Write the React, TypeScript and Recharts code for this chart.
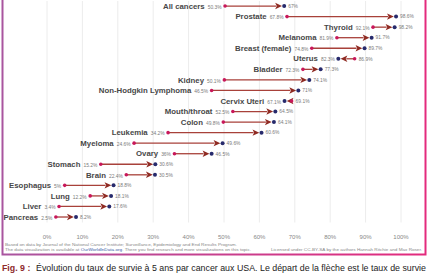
import React from 'react';
import { ComposedChart, Bar, XAxis, YAxis, CartesianGrid } from 'recharts';

const categories = [
  'All cancers', 'Prostate', 'Thyroid', 'Melanoma', 'Breast (female)', 'Uterus', 'Bladder',
  'Kidney', 'Non-Hodgkin Lymphoma', 'Cervix Uteri', 'Mouth/throat', 'Colon', 'Leukemia',
  'Myeloma', 'Ovary', 'Stomach', 'Brain', 'Esophagus', 'Lung', 'Liver', 'Pancreas',
];
const startValues = [50.3, 67.8, 92.1, 81.9, 74.8, 86.9, 72.3, 50.1, 46.5, 69.1, 52.5, 49.8, 34.2, 24.6, 36, 15.2, 22.4, 5, 12.2, 3.4, 2.5];
const endValues = [67, 98.6, 98.2, 91.7, 89.7, 82.3, 77.3, 74.1, 71, 67.1, 64.5, 64.1, 60.6, 49.6, 46.5, 30.6, 30.5, 18.8, 18.1, 17.6, 8.2];
const xTicks = [0, 10, 20, 30, 40, 50, 60, 70, 80, 90, 100];

const sourceLine1 = 'Based on data by Journal of the National Cancer Institute; Surveillance, Epidemiology and End Results Program.';
const sourceLine2a = 'The data visualization is available at ';
const sourceLink = 'OurWorldInData.org';
const sourceLine2b = '. There you find research and more visualizations on this topic.';
const licenseText = 'Licensed under CC-BY-SA by the authors Hannah Ritchie and Max Roser.';
const captionBold = 'Fig. 9 :';
const captionText = 'Évolution du taux de survie à 5 ans par cancer aux USA. Le départ de la flèche est le taux de survie';

const data = categories.map((name, i) => ({
  name,
  start: startValues[i],
  end: endValues[i],
  range: [Math.min(startValues[i], endValues[i]), Math.max(startValues[i], endValues[i])],
}));

const FONT = '"Liberation Sans", Arial, sans-serif';

function ArrowShape(props: any) {
  const { x, y, width, height, payload } = props;
  if (x == null || y == null) return null;
  const left = Math.min(x, x + width);
  const right = Math.max(x, x + width);
  const cy = y + height / 2;
  const up = payload.end >= payload.start;
  const sx = up ? left : right;
  const ex = up ? right : left;
  const dir = up ? 1 : -1;
  const tip = ex - dir * 2.2;
  const base = tip - dir * 6.8;
  const lineEnd = up ? Math.max(sx, base + dir * 1) : Math.min(sx, base + dir * 1);
  const lo = Math.min(payload.start, payload.end);
  const hi = Math.max(payload.start, payload.end);
  return (
    <g>
      <line x1={sx} y1={cy} x2={lineEnd} y2={cy} stroke="#a8413a" strokeWidth={1.3} />
      <path
        d={`M${tip},${cy} L${base},${cy - 3.2} L${base + dir * 1.6},${cy} L${base},${cy + 3.2} Z`}
        fill="#8f2a22"
      />
      <circle cx={sx} cy={cy} r={1.8} fill="#c8175a" />
      <circle cx={ex} cy={cy} r={2} fill="#272a6c" />
      <text x={left - 3.5} y={cy + 2.7} textAnchor="end" fontFamily={FONT} fontSize={7.8} fill="#474747">
        <tspan fill="#474747" fontWeight="bold">{payload.name}</tspan>
        <tspan fill="#7a7a7a" fontSize={4.9} dx={3}>{`${lo}%`}</tspan>
      </text>
      <text x={right + 4} y={cy + 1.8} textAnchor="start" fontFamily={FONT} fontSize={4.9} fill="#7a7a7a">
        {`${hi}%`}
      </text>
    </g>
  );
}

function XTick(props: any) {
  const { x, y, payload } = props;
  return (
    <text x={x} y={y + 8.5} textAnchor="middle" fontFamily={FONT} fontSize={6} fill="#888">
      {`${payload.value}%`}
    </text>
  );
}

export default function App() {
  return (
    <div style={{ position: 'absolute', left: 0, top: 0, width: 428, height: 280, background: '#fff', fontFamily: FONT }}>
      <ComposedChart
        width={428}
        height={280}
        data={data}
        layout="vertical"
        margin={{ top: 1, right: 27, bottom: 37.5, left: 47 }}
      >
        <CartesianGrid horizontal={false} vertical stroke="#ececec" />
        <XAxis
          type="number"
          domain={[0, 100]}
          ticks={xTicks}
          axisLine={false}
          tickLine={false}
          height={20}
          tick={<XTick />}
          interval={0}
        />
        <YAxis type="category" dataKey="name" hide />
        <Bar dataKey="range" shape={<ArrowShape />} isAnimationActive={false} />
      </ComposedChart>
      <svg width={428} height={280} style={{ position: 'absolute', left: 0, top: 0, pointerEvents: 'none' }}>
        <defs>
          <linearGradient id="frameGrad" x1="0" y1="0" x2="1" y2="0">
            <stop offset="0" stopColor="#a9559f" />
            <stop offset="1" stopColor="#e32a7d" />
          </linearGradient>
        </defs>
        <rect x={2.5} y={-5} width={423} height={259.5} fill="none" stroke="url(#frameGrad)" strokeWidth={2} />
        <text x={5} y={246} fontFamily={FONT} fontSize={4} fill="#888" textLength={232} lengthAdjust="spacingAndGlyphs">
          {sourceLine1}
        </text>
        <text x={5} y={251} fontFamily={FONT} fontSize={4} fill="#888" textLength={246} lengthAdjust="spacingAndGlyphs">
          {sourceLine2a}
          <tspan fill="#3b5ba8">{sourceLink}</tspan>
          {sourceLine2b}
        </text>
        <text x={271} y={251} fontFamily={FONT} fontSize={4} fill="#888" textLength={151} lengthAdjust="spacingAndGlyphs">
          {licenseText}
        </text>
        <text x={2} y={270.5} fontFamily={FONT} fontSize={8.8} fontWeight="bold" fill="#8e2b2b">
          {captionBold}
        </text>
        <text x={36} y={270.5} fontFamily={FONT} fontSize={8.8} fill="#222" textLength={390} lengthAdjust="spacingAndGlyphs">
          {captionText}
        </text>
      </svg>
    </div>
  );
}
